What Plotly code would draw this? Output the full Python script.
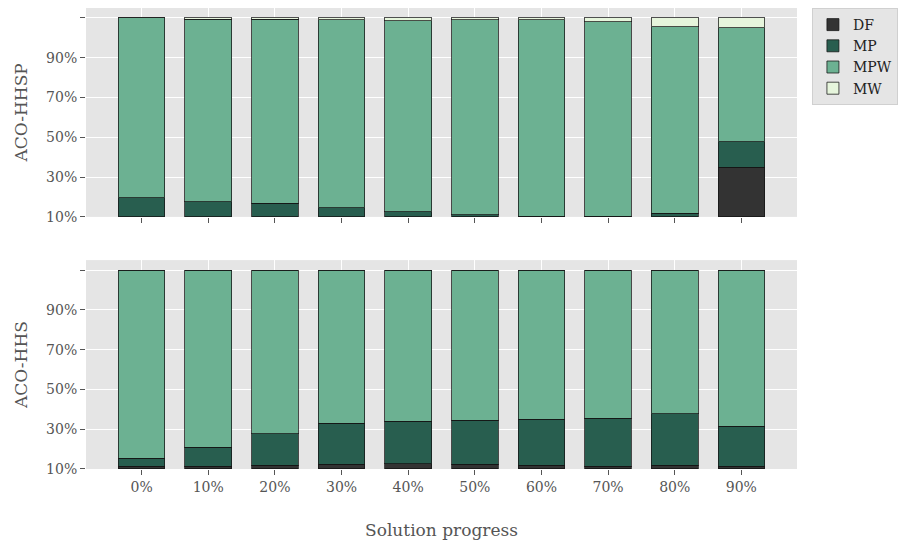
import plotly.graph_objects as go
from plotly.subplots import make_subplots

categories = ["0%", "10%", "20%", "30%", "40%", "50%", "60%", "70%", "80%", "90%"]
ytick_labels = ["10%", "30%", "50%", "70%", "90%", ""]
ytick_vals = [0.0, 0.2, 0.4, 0.6, 0.8, 1.0]

series_names = ["DF", "MP", "MPW", "MW"]
series_colors = ["#333333", "#285E4F", "#6CB192", "#E6F5DC"]

# ACO-HHSP (top panel)
hhsp_df = [0.0, 0.0, 0.0, 0.0, 0.0, 0.0, 0.0, 0.0, 0.0, 0.25]
hhsp_mp = [0.097, 0.077, 0.069, 0.047, 0.027, 0.010, 0.004, 0.004, 0.018, 0.128]
hhsp_mpw = [0.903, 0.917, 0.925, 0.943, 0.958, 0.982, 0.988, 0.976, 0.937, 0.572]
hhsp_mw = [0.0, 0.006, 0.006, 0.010, 0.015, 0.008, 0.008, 0.020, 0.045, 0.050]

# ACO-HHS (bottom panel)
hhs_df = [0.015, 0.015, 0.020, 0.025, 0.027, 0.025, 0.020, 0.015, 0.020, 0.015]
hhs_mp = [0.040, 0.095, 0.156, 0.204, 0.214, 0.221, 0.231, 0.241, 0.258, 0.201]
hhs_mpw = [0.945, 0.890, 0.824, 0.771, 0.759, 0.754, 0.749, 0.744, 0.722, 0.784]
hhs_mw = [0.0, 0.0, 0.0, 0.0, 0.0, 0.0, 0.0, 0.0, 0.0, 0.0]

panels = [
    ("ACO-HHSP", [hhsp_df, hhsp_mp, hhsp_mpw, hhsp_mw]),
    ("ACO-HHS", [hhs_df, hhs_mp, hhs_mpw, hhs_mw]),
]

FONT = "DejaVu Serif"
TXT = "#555555"

fig = make_subplots(rows=2, cols=1, shared_xaxes=False, vertical_spacing=0.0937)

for r, (label, series) in enumerate(panels, start=1):
    for name, color, vals in zip(series_names, series_colors, series):
        fig.add_trace(
            go.Bar(
                x=categories,
                y=vals,
                name=name,
                marker=dict(color=color, line=dict(color="rgba(20,20,20,0.75)", width=1)),
                width=0.7,
                showlegend=(r == 1),
                legendgroup=name,
            ),
            row=r, col=1,
        )
    fig.update_yaxes(
        title=dict(text=label, font=dict(family=FONT, size=17, color=TXT), standoff=14),
        range=[0, 1.05],
        tickvals=ytick_vals,
        ticktext=ytick_labels,
        ticks="outside", ticklen=5, tickcolor=TXT, tickwidth=1,
        tickfont=dict(family=FONT, size=14, color=TXT),
        showgrid=True, gridcolor="white", gridwidth=1,
        zeroline=False, showline=False,
        row=r, col=1,
    )
    fig.update_xaxes(
        range=[-0.835, 9.835],
        ticks="outside", ticklen=5, tickcolor=TXT, tickwidth=1,
        tickfont=dict(family=FONT, size=14, color=TXT),
        showticklabels=(r == 2),
        showgrid=True, gridcolor="white", gridwidth=1,
        zeroline=False, showline=False,
        row=r, col=1,
    )

fig.update_xaxes(
    title=dict(text="Solution progress", font=dict(family=FONT, size=17, color=TXT), standoff=30),
    row=2, col=1,
)

fig.update_layout(
    barmode="stack",
    width=902, height=544,
    margin=dict(l=86, r=105, t=8, b=75, autoexpand=False),
    paper_bgcolor="white",
    plot_bgcolor="#E5E5E5",
    font=dict(family=FONT, color=TXT),
    legend=dict(
        x=1.021, y=1.0, xanchor="left", yanchor="top",
        xref="paper", yref="paper",
        bgcolor="#E5E5E5", bordercolor="#D0D0D0", borderwidth=1,
        font=dict(family=FONT, size=14, color="#222222"),
        traceorder="normal",
        itemwidth=30,
    ),
    bargap=0.3,
)

fig.write_html("out.html")
